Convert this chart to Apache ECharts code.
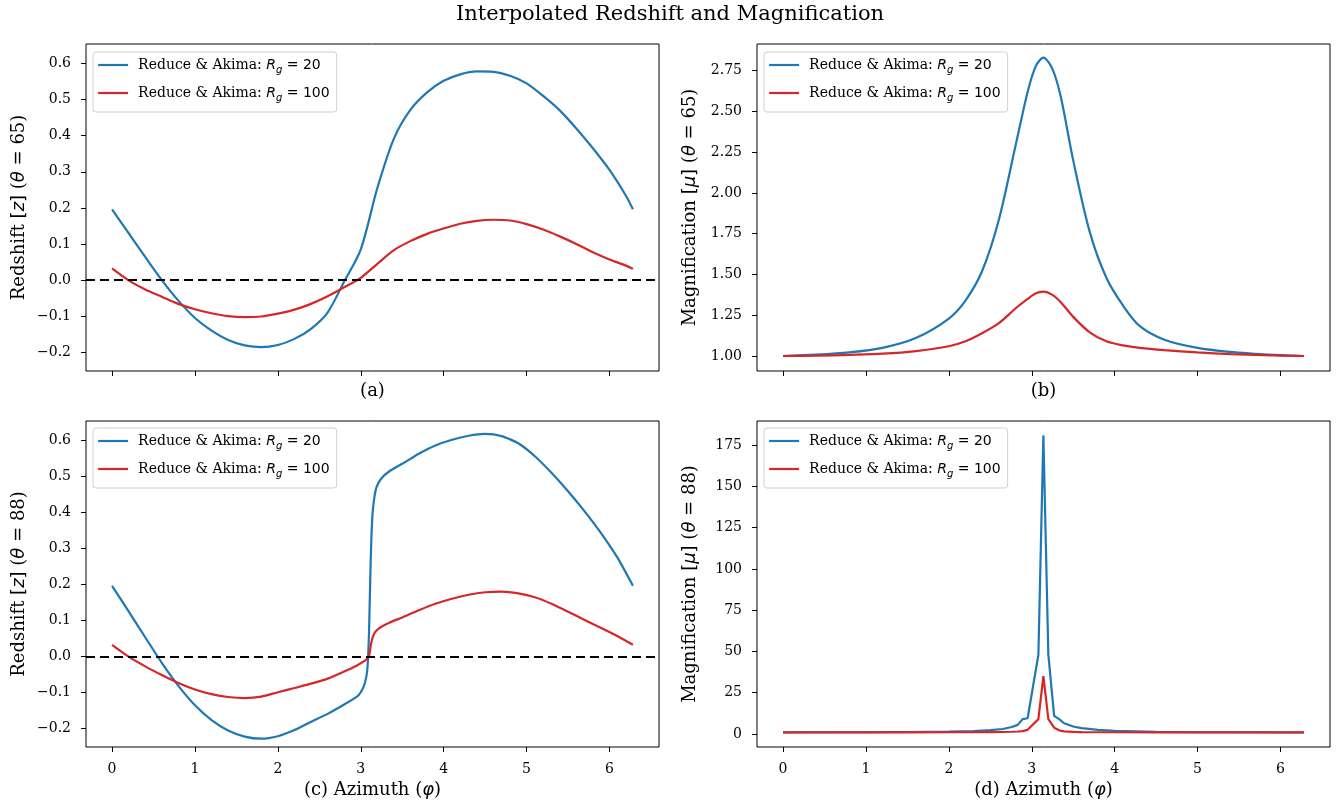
<!DOCTYPE html>
<html>
<head>
<meta charset="utf-8">
<title>Interpolated Redshift and Magnification</title>
<script src="https://cdn.jsdelivr.net/npm/echarts@6/dist/echarts.min.js"></script>
<style>
    html, body {margin: 0; padding: 0; background: #fff;}
    #chart {width: 1340px; height: 807px;}
</style>
</head>
<body>
<div id="chart"></div>
<script>
// azimuth samples and values
const phiA = [0, 0.2, 0.4, 0.6, 0.8, 1.0, 1.2, 1.4, 1.6, 1.8, 2.0, 2.2, 2.4, 2.6, 2.8, 3.0, 3.2, 3.4, 3.6, 3.8,
    4.0, 4.2, 4.4, 4.6, 4.8, 5.0, 5.2, 5.4, 5.6, 5.8, 6.0, 6.2, 6.283];
const zA20 = [0.196, 0.130, 0.064, 0.000, -0.057, -0.105, -0.140, -0.166, -0.181, -0.186, -0.180, -0.163, -0.135,
    -0.090, -0.004, 0.085, 0.255, 0.392, 0.472, 0.520, 0.552, 0.570, 0.578, 0.577, 0.566, 0.545, 0.510, 0.470,
    0.420, 0.365, 0.305, 0.233, 0.196];
const zA100 = [0.032, -0.001, -0.026, -0.046, -0.066, -0.081, -0.092, -0.100, -0.103, -0.101, -0.093, -0.082,
    -0.066, -0.045, -0.020, 0.006, 0.045, 0.083, 0.108, 0.128, 0.143, 0.156, 0.164, 0.167, 0.165, 0.155, 0.140,
    0.121, 0.100, 0.077, 0.057, 0.040, 0.031];

const phiB = [0, 0.4, 0.8, 1.2, 1.6, 2.0, 2.2, 2.4, 2.6, 2.8, 2.95, 3.05, 3.14, 3.25, 3.35, 3.5, 3.7, 3.9, 4.1,
    4.3, 4.6, 5.0, 5.4, 5.8, 6.283];
const muB20 = [1.000, 1.008, 1.022, 1.050, 1.110, 1.230, 1.340, 1.520, 1.830, 2.280, 2.620, 2.780, 2.830, 2.760,
    2.590, 2.200, 1.760, 1.480, 1.310, 1.185, 1.100, 1.050, 1.025, 1.010, 1.000];
const muB100 = [1.000, 1.002, 1.007, 1.014, 1.030, 1.060, 1.090, 1.140, 1.200, 1.290, 1.350, 1.385, 1.395, 1.375,
    1.330, 1.240, 1.145, 1.090, 1.065, 1.050, 1.036, 1.022, 1.012, 1.005, 1.000];

const phiC = [0, 0.2, 0.4, 0.6, 0.8, 1.0, 1.2, 1.4, 1.6, 1.8, 2.0, 2.2, 2.4, 2.6, 2.8, 2.95, 3.0, 3.05, 3.08, 3.10,
    3.12, 3.14, 3.16, 3.19, 3.25, 3.35, 3.5, 3.7, 3.9, 4.1, 4.3, 4.5, 4.7, 4.9, 5.1, 5.3, 5.5, 5.7, 5.9, 6.1, 6.283];
const zC20 = [0.196, 0.125, 0.053, -0.018, -0.082, -0.136, -0.177, -0.206, -0.223, -0.229, -0.222, -0.205, -0.182,
    -0.160, -0.134, -0.113, -0.100, -0.074, -0.035, 0.070, 0.270, 0.390, 0.435, 0.470, 0.495, 0.515, 0.535, 0.563,
    0.586, 0.602, 0.613, 0.618, 0.612, 0.592, 0.556, 0.510, 0.459, 0.403, 0.342, 0.273, 0.196];
const zC100 = [0.032, -0.001, -0.028, -0.052, -0.074, -0.092, -0.105, -0.113, -0.116, -0.112, -0.100, -0.088,
    -0.076, -0.062, -0.042, -0.026, -0.019, -0.012, -0.006, 0.000, 0.030, 0.050, 0.062, 0.072, 0.082, 0.094, 0.108,
    0.128, 0.146, 0.160, 0.171, 0.178, 0.180, 0.175, 0.164, 0.146, 0.124, 0.101, 0.079, 0.056, 0.032];

const phiD = [0, 0.5, 1.0, 1.5, 2.0, 2.3, 2.5, 2.65, 2.76, 2.83, 2.89, 2.95, 3.08, 3.14, 3.20, 3.27, 3.33, 3.39,
    3.5, 3.6, 3.8, 4.0, 4.5, 5.0, 5.5, 6.0, 6.283];
const muD20 = [1.0, 1.03, 1.08, 1.2, 1.45, 1.8, 2.3, 3.0, 4.2, 5.5, 9.0, 9.5, 48, 181, 48, 11, 9, 6.5, 4.5, 3.5,
    2.5, 1.9, 1.3, 1.12, 1.05, 1.02, 1.0];
const muD100 = [1.0, 1.0, 1.0, 1.01, 1.03, 1.07, 1.12, 1.2, 1.35, 1.5, 1.7, 2.5, 9, 35, 9, 3.8, 2.2, 1.6, 1.25,
    1.12, 1.05, 1.03, 1.01, 1.0, 1.0, 1.0, 1.0];

const xTicks = [0, 1, 2, 3, 4, 5, 6];
const zTicks = [-0.2, -0.1, 0, 0.1, 0.2, 0.3, 0.4, 0.5, 0.6];
const muTicks65 = [1.0, 1.25, 1.5, 1.75, 2.0, 2.25, 2.5, 2.75];
const muTicks88 = [0, 25, 50, 75, 100, 125, 150, 175];

const BLUE = "#1f77b4";
const RED = "#d62728";
const SERIF = "DejaVu Serif";
const SANS = "DejaVu Sans";

const rich = {
    t: {fontFamily: SERIF, fontSize: 18, color: "#000"},
    m: {fontFamily: SANS, fontStyle: "italic", fontSize: 18, color: "#000"},
    n: {fontFamily: SANS, fontSize: 18, color: "#000"},
};
const legendRich = {
    t: {fontFamily: SERIF, fontSize: 14, color: "#000", lineHeight: 20, padding: [0, 0, 0, 5]},
    m: {fontFamily: SANS, fontStyle: "italic", fontSize: 14, color: "#000", lineHeight: 20},
    s: {fontFamily: SANS, fontStyle: "italic", fontSize: 10, color: "#000", lineHeight: 20, verticalAlign: "bottom"},
    n: {fontFamily: SANS, fontSize: 14, color: "#000", lineHeight: 20},
};

const minus = (s) => s.replace("-", "\u2212");

const grids = [
    {left: 86, top: 44, width: 573, height: 327},
    {left: 757, top: 44, width: 573, height: 327},
    {left: 86, top: 421, width: 573, height: 326},
    {left: 757, top: 421, width: 573, height: 326},
];

const makeX = (idx, name, showLabels, gap) => ({
    type: "value",
    gridIndex: idx,
    min: -0.3142,
    max: 6.5973,
    name: name,
    nameLocation: "middle",
    nameGap: gap,
    nameTextStyle: {rich: rich},
    axisLine: {show: false, onZero: false},
    splitLine: {show: false},
    axisTick: {show: true, length: 5, customValues: xTicks, lineStyle: {color: "#000", width: 1}},
    axisLabel: {
        show: showLabels,
        customValues: xTicks,
        margin: 15,
        fontFamily: SERIF,
        fontSize: 14,
        color: "#000",
    },
});

const makeY = (idx, name, min, max, ticks, digits) => ({
    type: "value",
    gridIndex: idx,
    min: min,
    max: max,
    name: name,
    nameLocation: "middle",
    nameRotate: 90,
    nameGap: 58,
    nameTextStyle: {rich: rich},
    axisLine: {show: false, onZero: false},
    splitLine: {show: false},
    axisTick: {show: true, length: 5, customValues: ticks, lineStyle: {color: "#000", width: 1}},
    axisLabel: {
        customValues: ticks,
        margin: 15,
        fontFamily: SERIF,
        fontSize: 14,
        color: "#000",
        formatter: (v) => minus(Number(v).toFixed(digits)),
    },
});

const zeroLine = {
    silent: true,
    symbol: "none",
    label: {show: false},
    lineStyle: {color: "#000", type: [9, 5], width: 2},
    data: [{yAxis: 0}],
};

const makeSeries = (idx, name, color, xs, ys, smooth, mark) => ({
    name: name,
    type: "line",
    xAxisIndex: idx,
    yAxisIndex: idx,
    data: xs.map((p, i) => [p, ys[i]]),
    symbol: "none",
    smooth: smooth,
    lineStyle: {color: color, width: 2.2},
    itemStyle: {color: color},
    markLine: mark ? zeroLine : undefined,
    z: name === "Rg100" ? 3 : 2,
});

const makeLegend = (left, top) => ({
    left: left,
    top: top,
    orient: "vertical",
    data: ["Rg20", "Rg100"],
    selectedMode: false,
    itemWidth: 30,
    itemHeight: 14,
    itemGap: 11,
    padding: [6, 7, 9, 4],
    itemStyle: {opacity: 0},
    lineStyle: {width: 2.2},
    backgroundColor: "rgba(255,255,255,0.8)",
    borderColor: "#d0d0d0",
    borderWidth: 1,
    borderRadius: 3,
    formatter: (name) => name === "Rg20"
        ? "{t|Reduce & Akima: }{m|R}{s|g}{n| = 20}"
        : "{t|Reduce & Akima: }{m|R}{s|g}{n| = 100}",
    textStyle: {rich: legendRich},
});

const chart = echarts.init(document.getElementById("chart"));

chart.setOption({
    animation: false,
    backgroundColor: "#fff",
    title: {
        text: "Interpolated Redshift and Magnification",
        left: "center",
        top: -1,
        textStyle: {fontFamily: SERIF, fontSize: 21, fontWeight: "normal", color: "#000"},
    },
    grid: grids.map((g) => Object.assign({
        show: true,
        borderColor: "#000",
        borderWidth: 1,
        backgroundColor: "#fff",
        outerBoundsMode: "none",
    }, g)),
    legend: [makeLegend(93, 52), makeLegend(764, 52), makeLegend(93, 428), makeLegend(764, 428)],
    xAxis: [
        makeX(0, "{t|(a)}", false, 11),
        makeX(1, "{t|(b)}", false, 11),
        makeX(2, "{t|(c) Azimuth (}{m|φ}{t|)}", true, 34),
        makeX(3, "{t|(d) Azimuth (}{m|φ}{t|)}", true, 34),
    ],
    yAxis: [
        makeY(0, "{t|Redshift }{n|[}{m|z}{n|]}{t| (}{m|θ}{t| = 65)}", -0.252, 0.654, zTicks, 1),
        makeY(1, "{t|Magnification }{n|[}{m|μ}{n|]}{t| (}{m|θ}{t| = 65)}", 0.908, 2.914, muTicks65, 2),
        makeY(2, "{t|Redshift }{n|[}{m|z}{n|]}{t| (}{m|θ}{t| = 88)}", -0.252, 0.654, zTicks, 1),
        makeY(3, "{t|Magnification }{n|[}{m|μ}{n|]}{t| (}{m|θ}{t| = 88)}", -7.9, 189.6, muTicks88, 0),
    ],
    series: [
        makeSeries(0, "Rg20", BLUE, phiA, zA20, 0.3, true),
        makeSeries(0, "Rg100", RED, phiA, zA100, 0.3, false),
        makeSeries(1, "Rg20", BLUE, phiB, muB20, 0.3, false),
        makeSeries(1, "Rg100", RED, phiB, muB100, 0.3, false),
        makeSeries(2, "Rg20", BLUE, phiC, zC20, 0.2, true),
        makeSeries(2, "Rg100", RED, phiC, zC100, 0.2, false),
        makeSeries(3, "Rg20", BLUE, phiD, muD20, false, false),
        makeSeries(3, "Rg100", RED, phiD, muD100, false, false),
    ],
});

window.addEventListener("resize", () => chart.resize());
</script>
</body>
</html>
